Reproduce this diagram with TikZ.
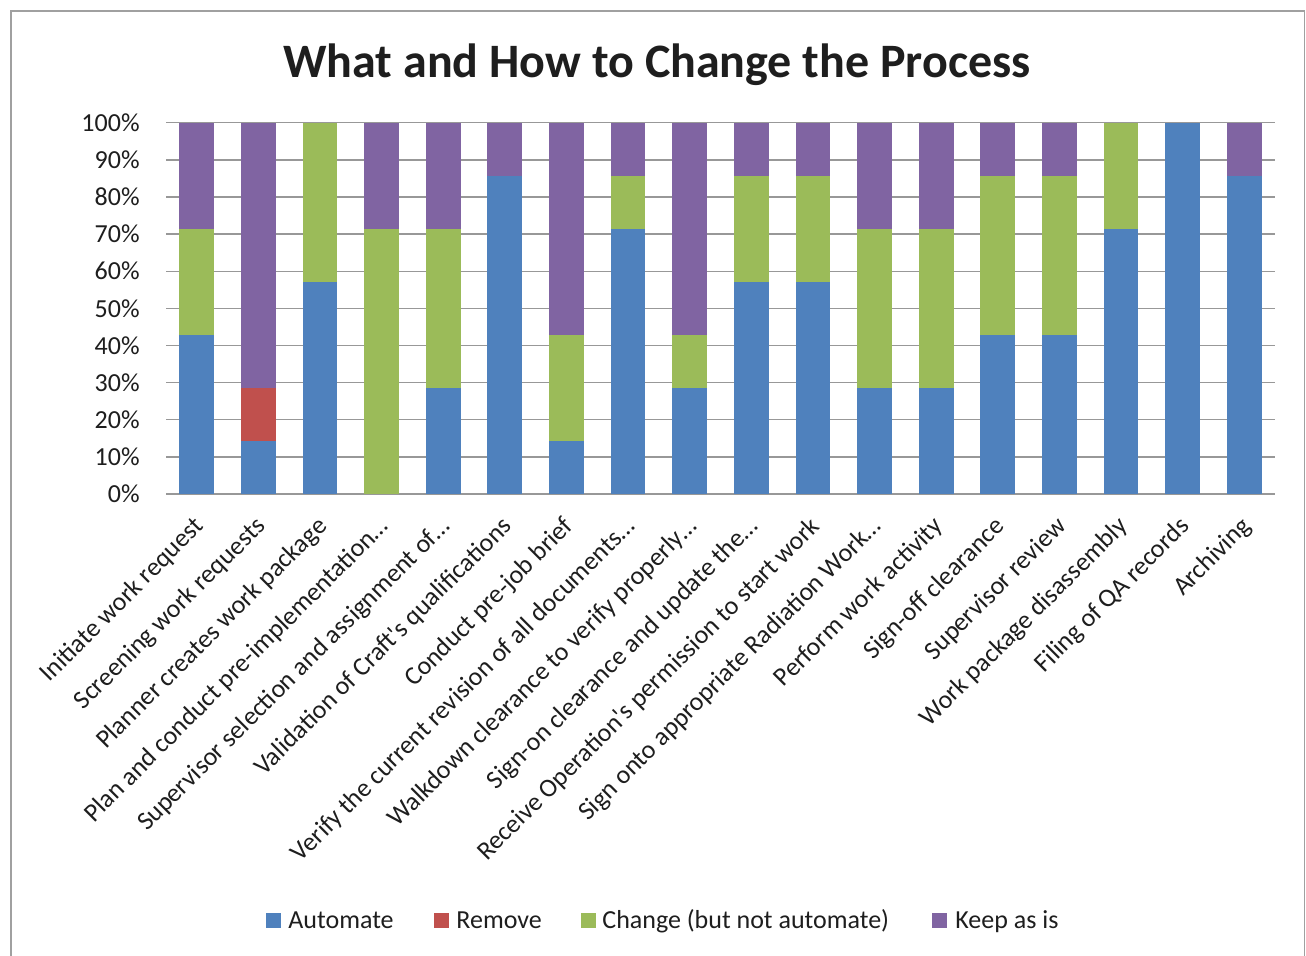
\documentclass[tikz,border=0pt]{standalone}
\usepackage{fontspec}
\setmainfont{Carlito}
\definecolor{cA}{HTML}{4F81BD}
\definecolor{cR}{HTML}{C0504D}
\definecolor{cC}{HTML}{9BBB59}
\definecolor{cK}{HTML}{8064A2}
\definecolor{gridc}{RGB}{152,152,152}
\definecolor{framec}{RGB}{160,160,160}
\definecolor{txt}{RGB}{30,30,30}
\tikzset{
  lab/.style={rotate=45, anchor=mid east, inner sep=0pt, text=txt, font=\fontsize{13}{15}\selectfont},
  ylab/.style={anchor=east, inner sep=0pt, text=txt, font=\fontsize{13}{15}\selectfont},
  legtxt/.style={anchor=base west, inner sep=0pt, text=txt, font=\fontsize{13}{15}\selectfont},
  legbox/.style={minimum size=7.5pt, inner sep=0pt, anchor=center},
  gridline/.style={draw=gridc, line width=0.7pt},
}
\begin{document}
\begin{tikzpicture}[x=0.5pt,y=-0.5pt]
\clip (0,0) rectangle (1306,956);
\useasboundingbox (0,0) rectangle (1306,956);
\fill[white] (0,0) rectangle (1306,956);
% frame
\draw[framec, line width=0.9pt] (11,11) rectangle (1304.5,970);
% title
\node[anchor=base, inner sep=0pt, text=txt, font=\fontsize{24}{28}\selectfont\bfseries] (title) at (657,78) {What and How to Change the Process};
% gridlines and y labels
\foreach \p in {0,10,...,100}{
  \pgfmathsetmacro\yy{494-3.713*\p}
  \draw[gridline] (166,\yy) -- (1275,\yy);
  \node[ylab] (y\p) at (140,\yy) {\p\%};
}
% bars
\foreach \i/\a/\r/\c/\k/\t in {
 1/3/0/2/2/{Initiate work request},
 2/1/1/0/5/{Screening work requests},
 3/4/0/3/0/{Planner creates work package},
 4/0/0/5/2/{Plan and conduct pre-implementation…},
 5/2/0/3/2/{Supervisor selection and assignment of…},
 6/6/0/0/1/{Validation of Craft\textquotesingle s qualifications},
 7/1/0/2/4/{Conduct pre-job brief},
 8/5/0/1/1/{Verify the current revision of all documents…},
 9/2/0/1/4/{Walkdown clearance to verify properly…},
 10/4/0/2/1/{Sign-on clearance and update the…},
 11/4/0/2/1/{Receive Operation\textquotesingle s permission to start work},
 12/2/0/3/2/{Sign onto appropriate Radiation Work…},
 13/2/0/3/2/{Perform work activity},
 14/3/0/3/1/{Sign-off clearance},
 15/3/0/3/1/{Supervisor review},
 16/5/0/2/0/{Work package disassembly},
 17/7/0/0/0/{Filing of QA records},
 18/6/0/0/1/{Archiving}}{
  \pgfmathsetmacro\xc{166+61.611*(\i-0.5)}
  \pgfmathsetmacro\xl{\xc-17.4}
  \pgfmathsetmacro\xr{\xc+17.4}
  \pgfmathsetmacro\ya{494-53.043*\a}
  \pgfmathsetmacro\yr{494-53.043*(\a+\r)}
  \pgfmathsetmacro\yc{494-53.043*(\a+\r+\c)}
  \pgfmathsetmacro\yk{494-53.043*(\a+\r+\c+\k)}
  \ifnum\a>0 \fill[cA] (\xl,494) rectangle (\xr,\ya);\fi
  \ifnum\r>0 \fill[cR] (\xl,\ya) rectangle (\xr,\yr);\fi
  \ifnum\c>0 \fill[cC] (\xl,\yr) rectangle (\xr,\yc);\fi
  \ifnum\k>0 \fill[cK] (\xl,\yc) rectangle (\xr,\yk);\fi
  \node[lab] (l\i) at (\xc+5,524) {\t};
}
% legend
\node[legbox, fill=cA] (kA) at (273.5,920.5) {};
\node[legtxt] (tA) at (288,928) {Automate};
\node[legbox, fill=cR] (kR) at (441.5,920.5) {};
\node[legtxt] (tR) at (456,928) {Remove};
\node[legbox, fill=cC] (kC) at (588.5,920.5) {};
\node[legtxt] (tC) at (602,928) {Change (but not automate)};
\node[legbox, fill=cK] (kK) at (939.5,920.5) {};
\node[legtxt] (tK) at (955,928) {Keep as is};
\end{tikzpicture}
\end{document}
